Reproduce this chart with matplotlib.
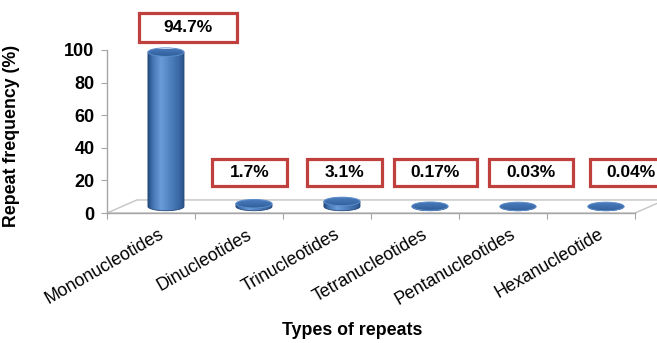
import numpy as np
import matplotlib
matplotlib.use("Agg")
import matplotlib.pyplot as plt
from matplotlib.patches import Polygon, Ellipse, Rectangle
from matplotlib.colors import LinearSegmentedColormap

# ---- data -----------------------------------------------------------------
categories = ["Mononucleotides", "Dinucleotides", "Trinucleotides",
              "Tetranucleotides", "Pentanucleotides", "Hexanucleotide"]
frequency = [94.7, 1.7, 3.1, 0.17, 0.03, 0.04]
y_ticks = [0, 20, 40, 60, 80, 100]

# ---- layout of the value call-out boxes (offset from bar index, width, y-range)
box_dx = [0.42, 0.12, 0.20, 0.23, 0.32, 0.46]
box_w = [1.11, 0.85, 0.86, 0.94, 0.95, 0.95]
box_y = [(104.9, 122.7)] + [(16.6, 33.1)] * 5

plt.rcParams["font.family"] = ["Liberation Sans", "DejaVu Sans"]

W, H = 657, 343
fig = plt.figure(figsize=(W / 100, H / 100), dpi=100)
ax = fig.add_axes([107 / W, 1 - 213 / H, 528 / W, 163 / H])

# pseudo-3D geometry (data units)
depth_x, depth_y = 0.34, 8.0
bar_w = 0.41
cap_h = 5.2
grey = "#a6a6a6"

side_cmap = LinearSegmentedColormap.from_list(
    "side", [(0.0, "#234b7e"), (0.12, "#4373b2"), (0.35, "#6b9bd8"),
             (0.55, "#5586c6"), (0.85, "#3867a4"), (1.0, "#274f84")])
top_cmap = LinearSegmentedColormap.from_list(
    "top", ["#2f5e9a", "#3f6fae", "#4a7bbb"])

# floor
floor = Polygon([(-0.5, 0), (5.5, 0), (5.5 + depth_x, depth_y),
                 (-0.5 + depth_x, depth_y)], closed=True,
                facecolor="white", edgecolor="#c4c4c4", lw=1.0,
                zorder=1, clip_on=False)
ax.add_patch(floor)
ax.plot([-0.5, 5.5], [0, 0], color=grey, lw=1.0, zorder=1.5, clip_on=False)

theta = np.linspace(np.pi, 2 * np.pi, 60)
for i, v in enumerate(frequency):
    cx = i + depth_x / 2
    base = depth_y / 2
    top = base + v
    x0, x1 = cx - bar_w / 2, cx + bar_w / 2
    # cylinder side: straight sides plus the front half of the base ellipse
    arc_x = cx + bar_w / 2 * np.cos(theta)
    arc_y = base + cap_h / 2 * np.sin(theta)
    side_pts = np.column_stack([np.r_[x0, arc_x, x1], np.r_[top, arc_y, top]])
    side = Polygon(side_pts, closed=True, facecolor="none",
                   edgecolor="#24497a", lw=0.6, zorder=3 + i, clip_on=False)
    ax.add_patch(side)
    grad = np.linspace(0, 1, 200).reshape(1, -1)
    im = ax.imshow(grad, cmap=side_cmap, extent=[x0, x1, base - cap_h / 2, top],
                   aspect="auto", interpolation="bilinear", zorder=2.9 + i)
    im.set_clip_path(side)
    im.set_clip_box(None)
    # top cap
    cap = Ellipse((cx, top), bar_w, cap_h, facecolor="none",
                  edgecolor="#5d8ccb", lw=0.7, zorder=3.2 + i, clip_on=False)
    ax.add_patch(cap)
    tgrad = np.linspace(0, 1, 100).reshape(-1, 1)
    tim = ax.imshow(tgrad, cmap=top_cmap, origin="lower",
                    extent=[x0, x1, top - cap_h / 2, top + cap_h / 2],
                    aspect="auto", interpolation="bilinear", zorder=3.1 + i)
    tim.set_clip_path(cap)
    tim.set_clip_box(None)

# value call-outs
for i, v in enumerate(frequency):
    xc = i + box_dx[i]
    y0, y1 = box_y[i]
    ax.add_patch(Rectangle((xc - box_w[i] / 2, y0), box_w[i], y1 - y0,
                           facecolor="white", edgecolor="#c0403e", lw=2.3,
                           zorder=20, clip_on=False))
    ax.text(xc, (y0 + y1) / 2, f"{v:g}%", ha="center", va="center",
            fontsize=12.5, fontweight="bold", zorder=21, clip_on=False)

# category labels
for i, name in enumerate(categories):
    ax.text(i + 0.08, -8, name, rotation=30, rotation_mode="anchor",
            ha="right", va="top", fontsize=12.8, clip_on=False)

ax.set_xlim(-0.5, 5.5)
ax.set_ylim(0, 100)
ax.set_xticks(np.arange(-0.5, 6.0, 1.0))
ax.set_xticklabels([])
ax.set_yticks(y_ticks)
ax.set_yticklabels([str(t) for t in y_ticks], fontsize=13, fontweight="bold")
ax.tick_params(axis="both", colors=grey, length=4, width=0.8, labelcolor="black")
ax.tick_params(axis="y", pad=5)
for s in ("top", "right", "bottom"):
    ax.spines[s].set_visible(False)
ax.spines["left"].set_color(grey)
ax.spines["left"].set_linewidth(1.0)
ax.patch.set_visible(False)

ax.set_ylabel("Repeat frequency (%)", fontsize=12.8, fontweight="bold")
ax.yaxis.set_label_coords(-0.165, 0.47)
ax.set_xlabel("Types of repeats", fontsize=12.8, fontweight="bold")
ax.xaxis.set_label_coords(0.464, -0.718)
ax.xaxis.label.set_va("center")

fig.savefig("out.png", dpi=100)
